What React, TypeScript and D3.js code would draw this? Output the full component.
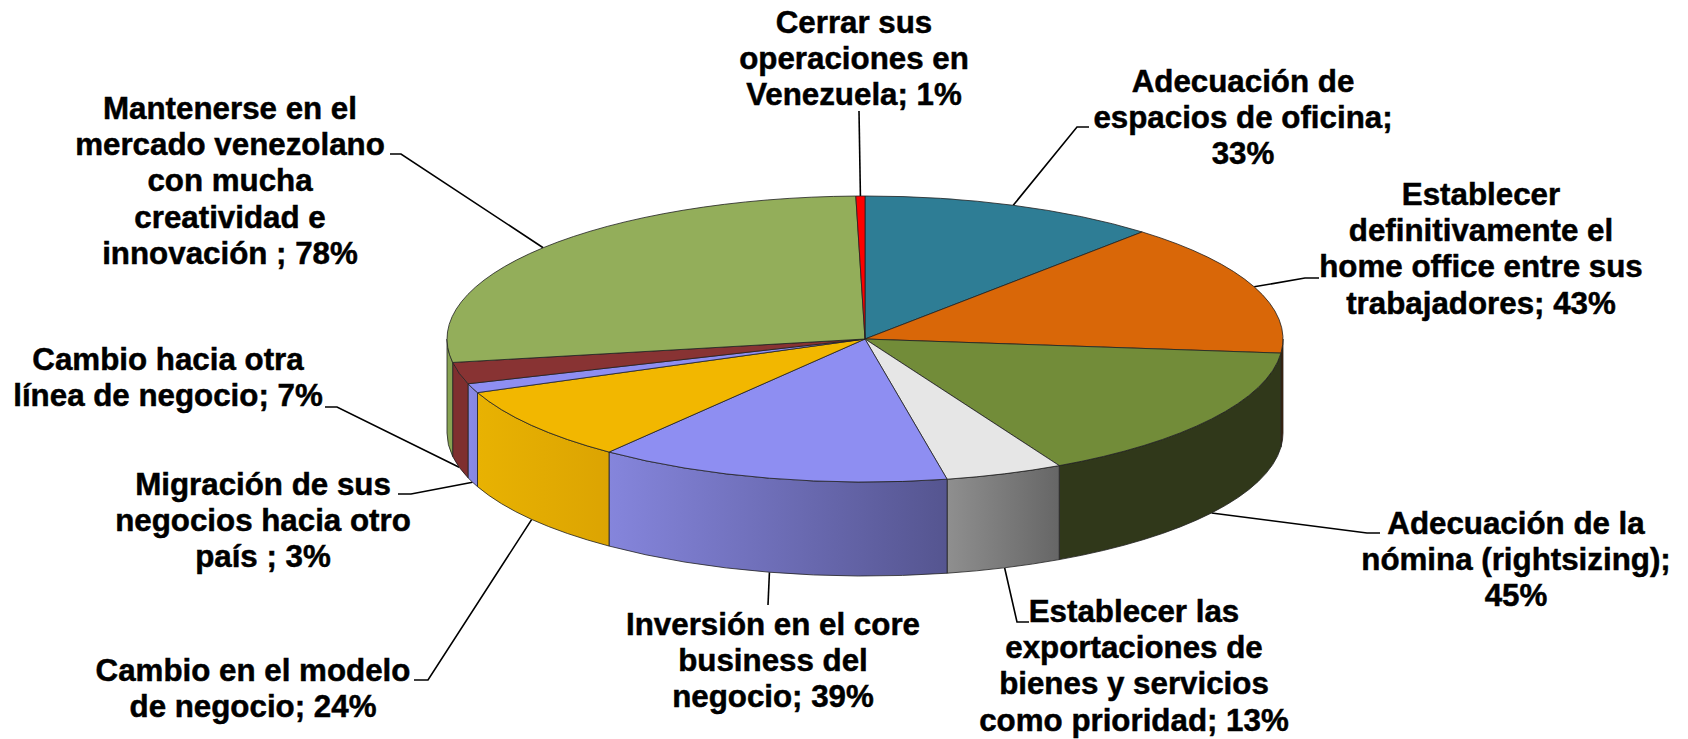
// App.tsx
import React from "react";
import * as d3 from "d3";

const categories = [
  "Adecuación de espacios de oficina",
  "Establecer definitivamente el home office entre sus trabajadores",
  "Adecuación de la nómina (rightsizing)",
  "Establecer las exportaciones de bienes y servicios como prioridad",
  "Inversión en el core business del negocio",
  "Cambio en el modelo de negocio",
  "Migración de sus negocios hacia otro país",
  "Cambio hacia otra línea de negocio",
  "Mantenerse en el mercado venezolano con mucha creatividad e innovación",
  "Cerrar sus operaciones en Venezuela",
];
const values = [33, 43, 45, 13, 39, 24, 3, 7, 78, 1];

const labelLines = [
  ["Adecuación de", "espacios de oficina;", "33%"],
  ["Establecer", "definitivamente el", "home office entre sus", "trabajadores; 43%"],
  ["Adecuación de la", "nómina (rightsizing);", "45%"],
  ["Establecer las", "exportaciones de", "bienes y servicios", "como prioridad; 13%"],
  ["Inversión en el core", "business del", "negocio; 39%"],
  ["Cambio en el modelo", "de negocio; 24%"],
  ["Migración de sus", "negocios hacia otro", "país ; 3%"],
  ["Cambio hacia otra", "línea de negocio; 7%"],
  ["Mantenerse en el", "mercado venezolano", "con mucha", "creatividad e", "innovación ; 78%"],
  ["Cerrar sus", "operaciones en", "Venezuela; 1%"],
];

const topColors = ["#2e7d95", "#d96708", "#728c39", "#e6e6e6", "#8e8ef2", "#f2b700", "#8e8ef2", "#883333", "#93ae5a", "#ff0000"];
// side wall colours, left edge to right edge of the visible wall
const wallFrom = ["#2e7d95", "#4a2606", "#30381a", "#8f8f8f", "#8585dc", "#e8b202", "#8a8ae6", "#7f2f2f", "#88a352", "#ff0000"];
const wallTo = ["#2e7d95", "#4a2606", "#30381a", "#666666", "#555590", "#dca402", "#8686e0", "#7f2f2f", "#88a352", "#ff0000"];

// label block: centre x and baseline of each first line
const labelX = [1243, 1481, 1516, 1134, 773, 253, 263, 168, 230, 854];
const labelY = [92, 205, 534, 622, 635, 681, 495, 370, 119, 33];
const lineStep = 36.2;

// leader lines: elbow and end of the short horizontal piece
const elbows = [
  [1077, 127, 1089, 127],
  [1305, 278, 1319, 278],
  [1367, 533, 1380, 533],
  [1017, 622, 1029, 622],
  [768, 605, 768, 605],
  [428, 680, 414, 680],
  [411, 494, 398, 494],
  [337, 407, 325, 407],
  [401, 154, 390, 154],
  [859, 111, 859, 111],
];

const width = 1688;
const height = 739;
const cx = 865;
const cy = 339;
const rx = 418;
const ry = 143;
const depth = 94;

const slices = d3.pie<number>().sort(null)(values);
const faceArc = d3.arc<d3.PieArcDatum<number>>().innerRadius(0).outerRadius(rx);

const project = (a: number): [number, number] => [cx + rx * Math.sin(a), cy - ry * Math.cos(a)];

// side wall of the part of a slice that lies in the front half of the disc
const wallRange = (d: d3.PieArcDatum<number>): [number, number] | null => {
  const a0 = Math.max(d.startAngle, Math.PI / 2);
  const a1 = Math.min(d.endAngle, (3 * Math.PI) / 2);
  return a1 > a0 ? [a0, a1] : null;
};

const wallPath = (a0: number, a1: number) => {
  const [x0, y0] = project(a0);
  const [x1, y1] = project(a1);
  return `M${x0},${y0}A${rx},${ry} 0 0 1 ${x1},${y1}L${x1},${y1 + depth}A${rx},${ry} 0 0 0 ${x0},${y0 + depth}Z`;
};

const leaderPath = (d: d3.PieArcDatum<number>, i: number) => {
  const mid = (d.startAngle + d.endAngle) / 2;
  const [x, y] = project(mid);
  const front = mid > Math.PI / 2 && mid < (3 * Math.PI) / 2;
  const [ex, ey, tx, ty] = elbows[i];
  return d3.line()([
    [x, front ? y + depth : y],
    [ex, ey],
    [tx, ty],
  ]) as string;
};

export default function App() {
  return (
    <svg
      width={width}
      height={height}
      viewBox={`0 0 ${width} ${height}`}
      style={{ position: "fixed", left: 0, top: 0, display: "block", background: "#fff" }}
    >
      <defs>
        {slices.map((d, i) => {
          const r = wallRange(d);
          if (!r) return null;
          // the front of the disc runs right to left, so the left x is the later angle
          return (
            <linearGradient
              key={i}
              id={`wall-${i}`}
              gradientUnits="userSpaceOnUse"
              x1={project(r[1])[0]}
              x2={project(r[0])[0]}
              y1={0}
              y2={0}
            >
              <stop offset="0%" stopColor={wallFrom[i]} />
              <stop offset="100%" stopColor={wallTo[i]} />
            </linearGradient>
          );
        })}
      </defs>

      {slices.map((d, i) => (
        <path key={i} d={leaderPath(d, i)} fill="none" stroke="#000" strokeWidth={1.6} />
      ))}

      {slices.map((d, i) => {
        const r = wallRange(d);
        if (!r) return null;
        return (
          <path
            key={i}
            d={wallPath(r[0], r[1])}
            fill={`url(#wall-${i})`}
            stroke="#222"
            strokeOpacity={0.8}
            strokeWidth={1}
          />
        );
      })}

      <g transform={`translate(${cx},${cy}) scale(1,${ry / rx})`}>
        {slices.map((d, i) => (
          <path
            key={i}
            d={faceArc(d) as string}
            fill={topColors[i]}
            stroke="#222"
            strokeOpacity={0.8}
            strokeWidth={1}
            vectorEffect="non-scaling-stroke"
          >
            <title>{categories[i]}</title>
          </path>
        ))}
      </g>

      <g
        fontFamily="'Liberation Sans', Arial, sans-serif"
        fontWeight="bold"
        fontSize={31.3}
        textAnchor="middle"
        fill="#000"
        stroke="#000"
        strokeWidth={0.5}
      >
        {labelLines.map((lines, i) => (
          <text key={i} x={labelX[i]} y={labelY[i]}>
            {lines.map((line, j) => (
              <tspan key={j} x={labelX[i]} y={labelY[i] + j * lineStep}>
                {line}
              </tspan>
            ))}
          </text>
        ))}
      </g>
    </svg>
  );
}
